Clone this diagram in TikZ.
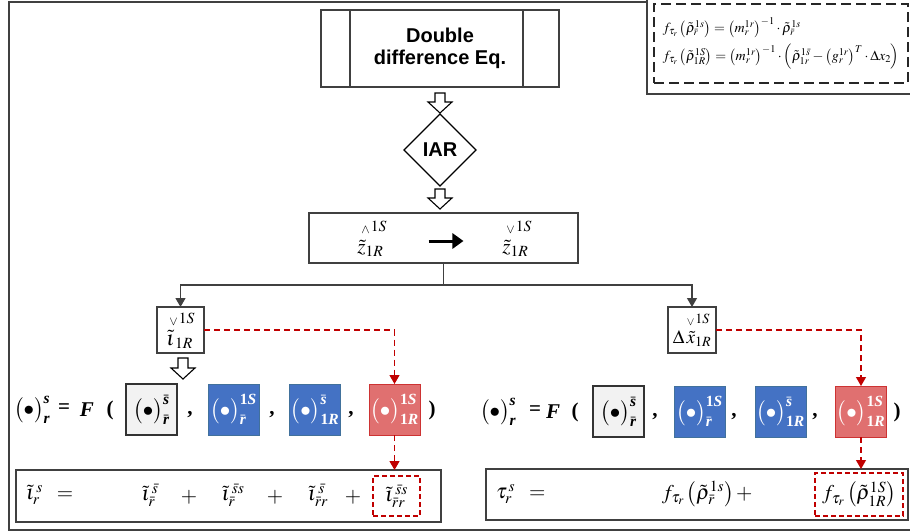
\documentclass[tikz,border=0pt]{standalone}
\usepackage{amsmath}
\usepackage{mathptmx}
\usepackage[no-math]{fontspec}
\setmainfont{Liberation Serif}
\newfontfamily\arialfont{Liberation Sans}
\usetikzlibrary{shapes.geometric,arrows.meta,calc}
\definecolor{boxblue}{HTML}{4472C4}
\definecolor{blueedge}{HTML}{41719C}
\definecolor{boxred}{HTML}{E07070}
\definecolor{darkred}{HTML}{C00000}
\definecolor{boxgray}{HTML}{F2F2F2}
\definecolor{frameg}{HTML}{404040}
\newcommand\bi[1]{\text{\bfseries\itshape #1}}
\newcommand\bo[1]{\text{\bfseries #1}}
\newcommand\eqsize{\fontsize{21}{25}\selectfont}
\newcommand\lgsize{\fontsize{14}{17}\selectfont}
\newcommand\stk[4]{\begin{tabular}{@{}l@{}}\hspace*{#1}$\scriptscriptstyle #2$\hspace{1pt}\raisebox{2pt}{$\scriptstyle #3$}\\[-5pt]$#4$\end{tabular}}
\newcommand\dotp{\bigl(\bullet\bigr)}
% hollow down arrow: #1 name of top coordinate, #2 length
\newcommand\hollowdown[2]{%
  \draw[hollowline] ($(#1)+(-5,0)$) -- ($(#1)+(5,0)$) -- ($(#1)+(5,#2-11)$) -- ($(#1)+(12,#2-11)$)
    -- ($(#1)+(0,#2)$) -- ($(#1)+(-12,#2-11)$) -- ($(#1)+(-5,#2-11)$) -- cycle;}
\tikzset{
  every node/.style={inner sep=0pt, outer sep=0pt},
  mathtxt/.style={font=\eqsize},
  plainbox/.style={draw=frameg, line width=1.2pt, rectangle},
  ddbox/.style={plainbox, minimum width=238pt, minimum height=77pt, align=center,
    font=\arialfont\bfseries\fontsize{20}{22}\selectfont},
  iarbox/.style={diamond, draw=black, line width=1.1pt, minimum width=72pt, minimum height=72pt,
    aspect=1, font=\arialfont\bfseries\fontsize{20}{22}\selectfont},
  hollowline/.style={draw=black, fill=white, line width=1.1pt, line join=miter},
  graybox/.style={draw=black!80, fill=boxgray, line width=1.1pt, minimum width=51pt, minimum height=51pt, font=\eqsize},
  bluebox/.style={draw=blueedge, fill=boxblue, text=white, line width=0.8pt, minimum width=51pt, minimum height=51pt, font=\eqsize},
  redbox/.style={draw=darkred!80, fill=boxred, text=white, line width=0.8pt, minimum width=51pt, minimum height=51pt, font=\eqsize},
  blk/.style={draw=frameg, line width=1.2pt},
  conn/.style={blk, -{Triangle[length=9pt,width=10pt]}},
  thickarrow/.style={draw=black, line width=3pt, -{Triangle[length=11pt,width=15pt]}},
  redconn/.style={draw=darkred, line width=1.2pt, dash pattern=on 6pt off 4pt, -{Triangle[length=9pt,width=10pt]}},
  reddash/.style={draw=darkred, line width=1.2pt, dash pattern=on 5pt off 3pt, font=\eqsize},
  framel/.style={draw=frameg, line width=1.5pt},
  legendbox/.style={draw=black!85, line width=1.2pt, dash pattern=on 10pt off 5pt, minimum width=254pt, minimum height=79pt, align=left, font=\lgsize},
}
\begin{document}
\begin{tikzpicture}[x=1pt,y=-1pt]
\useasboundingbox (0,0) rectangle (910,531);
% outer frame
\draw[framel] (648,2) -- (9,2) -- (9,530) -- (910,530);
\draw[framel] (647,0) -- (647,94) -- (912,94);
% legend
\node[legendbox] (legend) at (781,43.5) {%
$f_{\tau_r}\left(\tilde{\rho}^{1s}_{\bar{r}}\right)=\left(m_r^{1r}\right)^{-1}\cdot\tilde{\rho}^{1s}_{\bar{r}}$\\[6pt]
$f_{\tau_r}\left(\tilde{\rho}^{1S}_{1R}\right)=\left(m_r^{1r}\right)^{-1}\cdot\left(\tilde{\rho}^{1\bar{s}}_{1r}-\left(g_r^{1r}\right)^{T}\cdot\Delta x_2\right)$};
% top flow
\node[ddbox] (dd) at (440,48.5) {Double\\difference Eq.};
\draw[blk] ($(dd.north west)+(29,0)$) -- ($(dd.south west)+(29,0)$);
\draw[blk] ($(dd.north east)+(-36,0)$) -- ($(dd.south east)+(-36,0)$);
\node[iarbox] (iar) at (440,150) {IAR};
\coordinate (h1) at (440,93);
\hollowdown{h1}{20}
\coordinate (h2) at (440,189);
\hollowdown{h2}{20}
\node[plainbox, minimum width=269pt, minimum height=50pt] (zb) at (443.5,238) {};
\node[mathtxt] (zl) at (372,238) {\stk{4pt}{\wedge}{1S}{\tilde{z}_{1R}}};
\node[mathtxt] (zr) at (517,238) {\stk{4pt}{\vee}{1S}{\tilde{z}_{1R}}};
\draw[thickarrow, shorten <=42pt, shorten >=39pt] ($(zl.east)+(0,3)$) -- ($(zr.west)+(0,3)$);
% split
\coordinate (split) at (443.5,285);
\node[plainbox, minimum width=47pt, minimum height=46pt, font=\eqsize] (io) at (180.5,330)
  {\stk{3pt}{\vee}{1S}{\tilde{\iota}_{\,1R}}};
\node[plainbox, minimum width=48pt, minimum height=46pt, font=\fontsize{19}{23}\selectfont] (dx) at (692,330)
  {\stk{14pt}{\vee}{1S}{\Delta\,\tilde{x}_{1R}}};
\draw[blk] (zb.south) -- (split);
\draw[conn] (split) -| (io.north);
\draw[conn] (split) -| (dx.north);
\coordinate (h3) at (183,358);
\hollowdown{h3}{21}
% left row
\node[mathtxt, anchor=west] (lpre) at (14,410) {$\dotp^{\bi{s}}_{\bi{r}}$};
\node[mathtxt] (leq) at (64,409) {$\bo{=}$};
\node[mathtxt] (lF) at (87,410) {$\bi{F}$};
\node[mathtxt] (lop) at (110,410) {\bfseries (};
\node[graybox] (g1) at (151.5,409.5) {$\dotp^{\bar{\bi{s}}}_{\bar{\bi{r}}}$};
\node[bluebox] (b1) at (233.5,409.5) {$\dotp^{\bo{1}\bi{S}}_{\bar{\bi{r}}}$};
\node[bluebox] (b2) at (315,409.5) {$\dotp^{\bar{\bi{s}}}_{\bo{1}\bi{R}}$};
\node[redbox] (r1) at (394.5,409.5) {$\dotp^{\bo{1}\bi{S}}_{\bo{1}\bi{R}}$};
\node[mathtxt] (lc1) at (190,415) {\bfseries ,};
\node[mathtxt] (lc2) at (272,415) {\bfseries ,};
\node[mathtxt] (lc3) at (351,415) {\bfseries ,};
\node[mathtxt] (lcl) at (432,410) {\bfseries )};
% right row
\node[mathtxt, anchor=west] (rpre) at (480,412) {$\dotp^{\bi{s}}_{\bi{r}}$};
\node[mathtxt] (req) at (535,411) {$\bo{=}$};
\node[mathtxt] (rF) at (553,412) {$\bi{F}$};
\node[mathtxt] (rop) at (575,412) {\bfseries (};
\node[graybox] (g2) at (618.5,411.5) {$\dotp^{\bar{\bi{s}}}_{\bar{\bi{r}}}$};
\node[bluebox] (b3) at (699.5,411.5) {$\dotp^{\bo{1}\bi{S}}_{\bar{\bi{r}}}$};
\node[bluebox] (b4) at (780.5,411.5) {$\dotp^{\bar{\bi{s}}}_{\bo{1}\bi{R}}$};
\node[redbox] (r2) at (861,411.5) {$\dotp^{\bo{1}\bi{S}}_{\bo{1}\bi{R}}$};
\node[mathtxt] (rc1) at (655,417) {\bfseries ,};
\node[mathtxt] (rc2) at (734,417) {\bfseries ,};
\node[mathtxt] (rc3) at (815,417) {\bfseries ,};
\node[mathtxt] (rcl) at (897,412) {\bfseries )};
% bottom left
\node[plainbox, minimum width=425pt, minimum height=52pt] (lb) at (228.5,496) {};
\node[mathtxt, anchor=west] (lhs1) at (26,495) {$\tilde{\iota}^{\,s}_{r}\;\;=$};
\node[mathtxt] (t1) at (150,495) {$\tilde{\iota}^{\,\bar{s}}_{\bar{r}}$};
\node[mathtxt] (p1) at (189,497) {$+$};
\node[mathtxt] (t2) at (233,495) {$\tilde{\iota}^{\,\bar{s}s}_{\bar{r}}$};
\node[mathtxt] (p2) at (275,497) {$+$};
\node[mathtxt] (t3) at (318,495) {$\tilde{\iota}^{\,\bar{s}}_{\bar{r}r}$};
\node[mathtxt] (p3) at (353,497) {$+$};
\node[reddash, minimum width=47pt, minimum height=40pt] (ld) at (396.5,496) {$\tilde{\iota}^{\,\bar{s}s}_{\bar{r}r}$};
% bottom right
\node[plainbox, minimum width=422pt, minimum height=51pt] (rb) at (697,494.5) {};
\node[mathtxt, anchor=west] (lhs2) at (496,494) {$\tau^{\,s}_{r}\;\;=$};
\node[mathtxt, anchor=west] (ft) at (662,494) {$f_{\tau_r}\left(\tilde{\rho}^{1s}_{\bar{r}}\right)+$};
\node[reddash, minimum width=88pt, minimum height=43pt] (rd) at (859,494.5) {$f_{\tau_r}\left(\tilde{\rho}^{1S}_{1R}\right)$};
% red dashed connectors
\draw[redconn] (io.east) -| (r1.north);
\draw[redconn] (dx.east) -| (r2.north);
\draw[redconn] (r1.south) -- (r1.south |- lb.north);
\draw[redconn] (r2.south) -- (r2.south |- rb.north);
\end{tikzpicture}
\end{document}
